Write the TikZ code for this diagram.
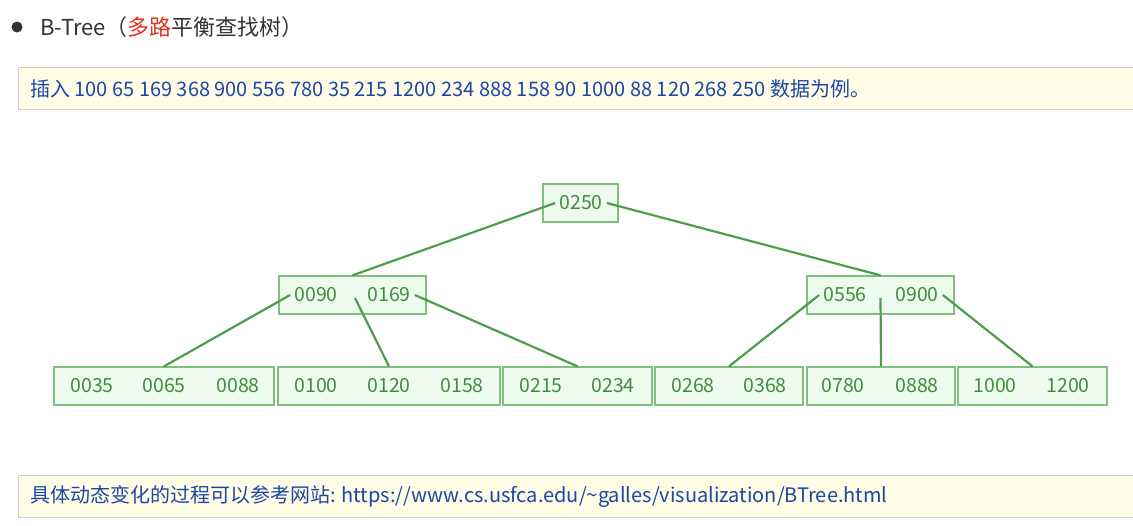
\documentclass[tikz,border=0pt]{standalone}
\usepackage{fontspec}
\setmainfont{Noto Sans CJK SC}
\usetikzlibrary{positioning}
\definecolor{ink}{HTML}{333333}
\definecolor{rd}{HTML}{E0301E}
\definecolor{bl}{HTML}{1C46A8}
\definecolor{nf}{HTML}{FFFDE6}
\definecolor{nl}{HTML}{CFCFCF}
\definecolor{gbd}{HTML}{7FC07F}
\definecolor{gbf}{HTML}{EFFAEF}
\definecolor{gtx}{HTML}{3E8E3E}
\definecolor{gln}{HTML}{4C9E4C}
\tikzset{
  keybox/.style={draw=gbd,fill=gbf,line width=1.3pt,minimum height=38pt,inner sep=0pt},
  key/.style={font=\fontsize{19.5}{20}\selectfont,text=gtx,inner sep=4pt},
  link/.style={line width=2.2pt,gln},
  note/.style={font=\fontsize{20}{22}\selectfont,text=bl,anchor=west,inner sep=0pt},
  head/.style={font=\fontsize{22}{24}\selectfont,text=ink,anchor=west,inner sep=0pt}
}
\begin{document}
\begin{tikzpicture}[x=1pt,y=-1pt]
\useasboundingbox (0,0) rectangle (1133,525);
% ================= heading and notes =================
\fill[ink] (17,27) circle (5.5);
\node[head] (title) at (40,27) {B-Tree（\textcolor{rd}{多路}平衡查找树）};
\fill[nf] (18,67) rectangle (1133,109);
\draw[nl,line width=1pt] (1133,67) -- (18,67) -- (18,109) -- (1133,109);
\node[note] (ins) at (30,89) {插入 100 65 169 368 900 556 780 35 215 1200 234 888 158 90 1000 88 120 268 250 数据为例。};
\fill[nf] (18,475) rectangle (1133,517);
\draw[nl,line width=1pt] (1133,475) -- (18,475) -- (18,517) -- (1133,517);
\node[note] (url) at (30,497) {具体动态变化的过程可以参考网站: https://www.cs.usfca.edu/\textasciitilde galles/visualization/BTree.html};
% ================= boxes =================
\node[keybox,minimum width=75pt] (rt) at (580.5,203) {};
\node[keybox,minimum width=147pt] (pl) at (352.5,295) {};
\node[keybox,minimum width=147pt] (pr) at (880.5,295) {};
\foreach \n/\x/\w in {la/164/220, lb/389/222, lc/577.5/149, ld/729/148, le/881/148, lf/1032.5/149}
  {\node[keybox,minimum width=\w pt] (\n) at (\x,386) {};}
% ================= keys =================
\node[key] (k250) at (581,203) {0250};
\foreach \n/\x/\t in {k090/316/0090, k169/389/0169, k556/845/0556, k900/917/0900}
  {\node[key] (\n) at (\x,295) {\t};}
\foreach \n/\x/\t in {k035/92/0035, k065/164/0065, k088/238/0088, k100/316/0100, k120/389/0120, k158/462/0158,
  k215/541/0215, k234/613/0234, k268/693/0268, k368/765/0368, k780/843/0780, k888/917/0888, k1000/995/1000, k1200/1068/1200}
  {\node[key] (\n) at (\x,386) {\t};}
\coordinate (ml) at (355,298);
\coordinate (mr) at (880.5,298);
% ================= links =================
\draw[link] (k250.west) -- (pl.north);
\draw[link] (k250.east) -- (pr.north);
\draw[link] (k090.west) -- (la.north);
\draw[link] (ml) -- (lb.north);
\draw[link] (k169.east) -- (lc.north);
\draw[link] (k556.west) -- (ld.north);
\draw[link] (mr) -- (le.north);
\draw[link] (k900.east) -- (lf.north);
\end{tikzpicture}
\end{document}
